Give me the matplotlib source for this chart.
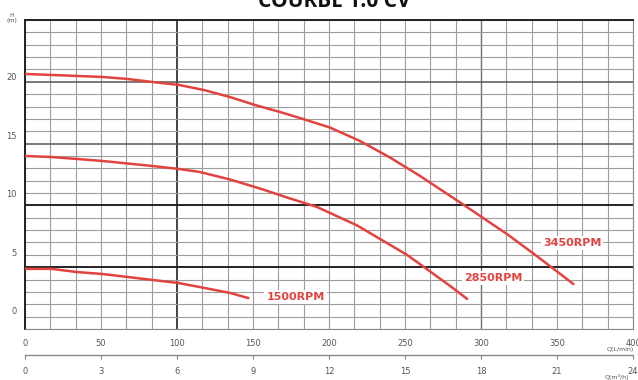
import numpy as np
import matplotlib.pyplot as plt

# pump curves: flow (L/min) vs head (m)
q_3450 = [0, 33.9, 51.1, 67.5, 84.0, 101.2, 117.6, 134.7, 151.2, 167.7, 182.9, 200.6, 220.4, 240.1,
          259.9, 288.3, 317.9, 335.7, 352.2, 360.8]
h_3450 = [20.26, 20.09, 20.0, 19.83, 19.57, 19.32, 18.89, 18.29, 17.61, 17.01, 16.41, 15.68, 14.53, 13.12,
          11.54, 9.10, 6.50, 4.79, 3.16, 2.3]

q_2850 = [0, 17.5, 51.1, 84.0, 101.2, 115.0, 134.8, 154.5, 174.3, 192.1, 218.5, 251.4, 279.7, 290.9]
h_2850 = [13.25, 13.16, 12.82, 12.39, 12.14, 11.88, 11.24, 10.47, 9.62, 8.89, 7.31, 4.79, 2.14, 1.03]

q_1500 = [0, 17.5, 34, 51, 84, 101, 118, 135, 147]
h_1500 = [3.6, 3.6, 3.33, 3.16, 2.65, 2.39, 1.97, 1.54, 1.1]

curve_labels = ['3450RPM', '2850RPM', '1500RPM']
label_pos = [(360, 5.8), (308, 2.85), (178, 1.2)]

lmin_ticks = [0, 50, 100, 150, 200, 250, 300, 350, 400]
m3h_ticks = [0, 3, 6, 9, 12, 15, 18, 21, 24]
head_ticks = [0, 5, 10, 15, 20]

red = '#e2433f'
ymin, ymax = -1.54, 24.87

fig = plt.figure(figsize=(6.38, 3.80), dpi=100)
ax = fig.add_axes([25 / 638, 51 / 380, 608 / 638, 309 / 380])
ax.set_xlim(0, 400)
ax.set_ylim(ymin, ymax)

# grid: 1 m3/h columns, 25 rows
for i, x in enumerate(np.linspace(0, 400, 25)):
    if i == 6:
        ax.axvline(x, color='#333333', lw=1.3, zorder=1)
    elif i == 18:
        ax.axvline(x, color='#707070', lw=1.0, zorder=1)
    else:
        ax.axvline(x, color='#9d9d9d', lw=0.8, zorder=1)
for i, y in enumerate(np.linspace(ymin, ymax, 26)):
    if i in (10, 5):
        ax.axhline(y, color='#222222', lw=1.4, zorder=1)
    elif i in (15, 20):
        ax.axhline(y, color='#555555', lw=1.1, zorder=1)
    else:
        ax.axhline(y, color='#9d9d9d', lw=0.8, zorder=1)

for q, h in [(q_3450, h_3450), (q_2850, h_2850), (q_1500, h_1500)]:
    ax.plot(q, h, color=red, lw=1.8, zorder=3, solid_capstyle='round', solid_joinstyle='round')

for txt, (x, y) in zip(curve_labels, label_pos):
    ax.text(x, y, txt, color=red, fontsize=8, fontweight='bold', ha='center', va='center',
            zorder=4, bbox=dict(facecolor='white', edgecolor='none', pad=1.5))

for s in ['top', 'left']:
    ax.spines[s].set_color('#222222')
    ax.spines[s].set_linewidth(1.4)
for s in ['bottom', 'right']:
    ax.spines[s].set_color('#888888')
    ax.spines[s].set_linewidth(0.8)

ax.set_yticks(head_ticks)
ax.set_yticklabels([str(t) for t in head_ticks], fontsize=6, color='#555555')
ax.tick_params(axis='y', length=0, pad=6)
ax.set_xticks(lmin_ticks)
ax.set_xticklabels([str(t) for t in lmin_ticks], fontsize=6, color='#555555')
ax.tick_params(axis='x', length=0, pad=7)

# second flow scale in m3/h
sec = ax.secondary_xaxis(-0.084, functions=(lambda v: v * 0.06, lambda v: v / 0.06))
sec.set_xticks(m3h_ticks)
sec.set_xticklabels([str(t) for t in m3h_ticks], fontsize=6, color='#555555')
sec.tick_params(axis='x', length=3, width=0.8, color='#888888', pad=6, direction='out')
sec.spines['bottom'].set_color('#888888')
sec.spines['bottom'].set_linewidth(1.0)

fig.text(12 / 638, 1 - 18 / 380, 'H\n(m)', fontsize=4.5, color='#555555', ha='center', va='center',
         linespacing=0.9)
fig.text(620 / 638, 1 - 350 / 380, 'Q(L/min)', fontsize=4.5, color='#555555', ha='center', va='center')
fig.text(617 / 638, 1 - 377 / 380, 'Q(m³/h)', fontsize=4.5, color='#555555', ha='center', va='center')

fig.text(334 / 638, 1 - 7 / 380, 'COURBE 1.0 CV', fontsize=15, fontweight='bold', color='#111111',
         ha='center', va='baseline', family='Open Sans')

fig.savefig('out.png', dpi=100)
